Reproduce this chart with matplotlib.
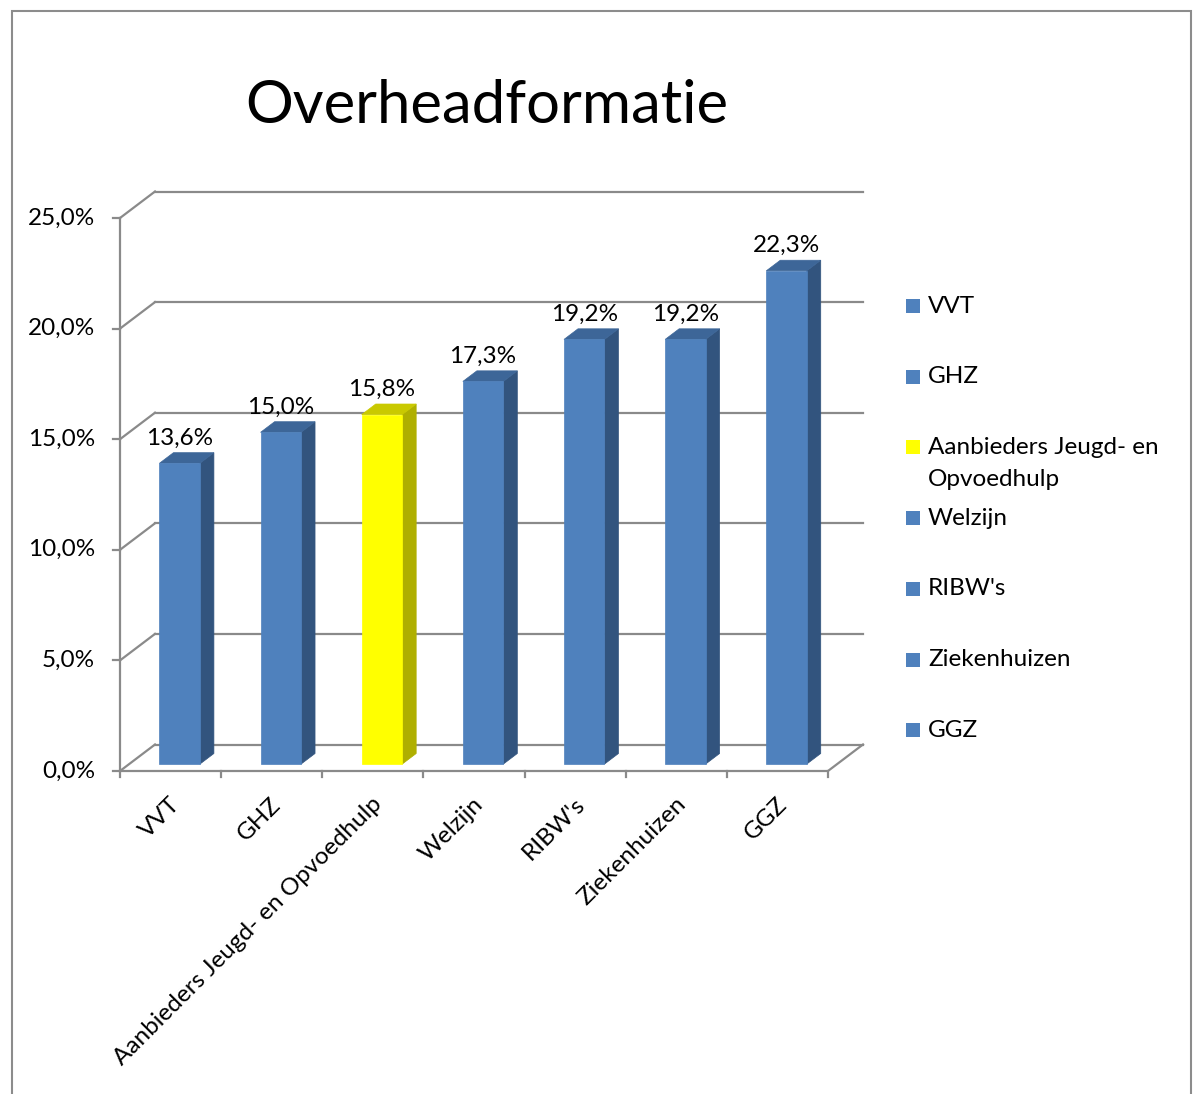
import matplotlib
matplotlib.use('Agg')
import matplotlib.pyplot as plt
from matplotlib.patches import Polygon, Rectangle
from matplotlib.lines import Line2D

categories = ["VVT", "GHZ", "Aanbieders Jeugd- en Opvoedhulp", "Welzijn",
              "RIBW's", "Ziekenhuizen", "GGZ"]
values = [13.6, 15.0, 15.8, 17.3, 19.2, 19.2, 22.3]
highlight = "Aanbieders Jeugd- en Opvoedhulp"
y_ticks = [0, 5, 10, 15, 20, 25]
legend_labels = ["VVT", "GHZ", "Aanbieders Jeugd- en\nOpvoedhulp", "Welzijn",
                 "RIBW's", "Ziekenhuizen", "GGZ"]
title = "Overheadformatie"

FONT = ['Lato', 'DejaVu Sans']
plt.rcParams['font.family'] = FONT
FS = 17.5

W, H = 1194, 1094
fig = plt.figure(figsize=(W / 100, H / 100), dpi=100)

x0px, x1px = 120, 863
y0px, y1px = 771, 191
ax = fig.add_axes([x0px / W, 1 - y0px / H, (x1px - x0px) / W, (y0px - y1px) / H])
PX_X = 101.14
PX_Y = 22.12
ax.set_xlim(0, (x1px - x0px) / PX_X)
ax.set_ylim(0, (y0px - y1px) / PX_Y)
ax.axis('off')

DX = 35 / PX_X
DY = 26.5 / PX_Y


def P(x, y, z):
    return (x + z * DX, y + z * DY)


n = len(categories)
GRID = '#8a8a8a'
LW = 1.6

# walls / gridlines
for t in y_ticks:
    a = P(0, t, 1); b = P(n, t, 1)
    ax.add_line(Line2D([a[0], b[0]], [a[1], b[1]], color=GRID, lw=LW, clip_on=False))
    a = P(0, t, 0); b = P(0, t, 1)
    ax.add_line(Line2D([a[0], b[0]], [a[1], b[1]], color=GRID, lw=LW, clip_on=False))
    ax.add_line(Line2D([-7 / PX_X, 0], [t, t], color=GRID, lw=LW, clip_on=False))
    ax.text(-25 / PX_X, t, f"{t:.1f}".replace('.', ',') + '%', ha='right', va='center',
            fontsize=FS, color='black')
a = P(0, 0, 0); b = P(0, y_ticks[-1], 0)
ax.add_line(Line2D([a[0], b[0]], [a[1], b[1]], color=GRID, lw=LW, clip_on=False))
# floor front and right
a = P(0, 0, 0); b = P(n, 0, 0); c = P(n, 0, 1)
ax.add_line(Line2D([a[0], b[0], c[0]], [a[1], b[1], c[1]], color=GRID, lw=LW, clip_on=False))
for k in range(n + 1):
    ax.add_line(Line2D([k, k], [0, -6 / PX_Y], color=GRID, lw=LW, clip_on=False))

# bars
Z0, Z1 = 0.26, 0.66
HW = 0.2
for i, (cat, v) in enumerate(zip(categories, values)):
    if cat == highlight:
        front, side, top = '#FFFF00', '#AFAF00', '#C9C900'
    else:
        front, side, top = '#4F81BD', '#32547E', '#3D6698'
    xl, xr = i + 0.5 - HW, i + 0.5 + HW
    fpoly = [P(xl, 0, Z0), P(xr, 0, Z0), P(xr, v, Z0), P(xl, v, Z0)]
    spoly = [P(xr, 0, Z0), P(xr, 0, Z1), P(xr, v, Z1), P(xr, v, Z0)]
    tpoly = [P(xl, v, Z0), P(xr, v, Z0), P(xr, v, Z1), P(xl, v, Z1)]
    for poly, col in ((spoly, side), (tpoly, top), (fpoly, front)):
        ax.add_patch(Polygon(poly, closed=True, facecolor=col, edgecolor=col, lw=0.5,
                             clip_on=False, zorder=3))
    lx, _ = P(i + 0.5, v, Z0)
    _, ly = P(i + 0.5, v, Z1)
    ax.text(lx, ly + 8 / PX_Y, f"{v:.1f}".replace('.', ',') + '%', ha='center',
            va='baseline', fontsize=FS, color='black', zorder=4)
    ax.text(i + 0.5 + 6 / PX_X, -30 / PX_Y, cat, rotation=45, rotation_mode='anchor',
            ha='right', va='center', fontsize=FS, color='black')

# title
fig.text(487 / W, 1 - 106 / H, title, ha='center', va='center', fontsize=43)

# legend
for i, (cat, lab) in enumerate(zip(categories, legend_labels)):
    yc = 306 + i * 70.7
    col = '#FFFF00' if cat == highlight else '#4F81BD'
    fig.add_artist(Rectangle((906 / W, 1 - (yc + 7) / H), 14 / W, 14 / H,
                             facecolor=col, edgecolor='none', transform=fig.transFigure))
    for j, line in enumerate(lab.split('\n')):
        fig.text(928 / W, 1 - (yc + j * 32) / H, line, ha='left', va='center', fontsize=FS)

# chart border
fig.add_artist(Rectangle((12 / W, -0.01), (1191 - 12) / W, (1094 - 11) / H + 0.01,
                         fill=False, edgecolor='#8c8c8c', lw=1.5, transform=fig.transFigure))

fig.savefig('out.png', dpi=100)
